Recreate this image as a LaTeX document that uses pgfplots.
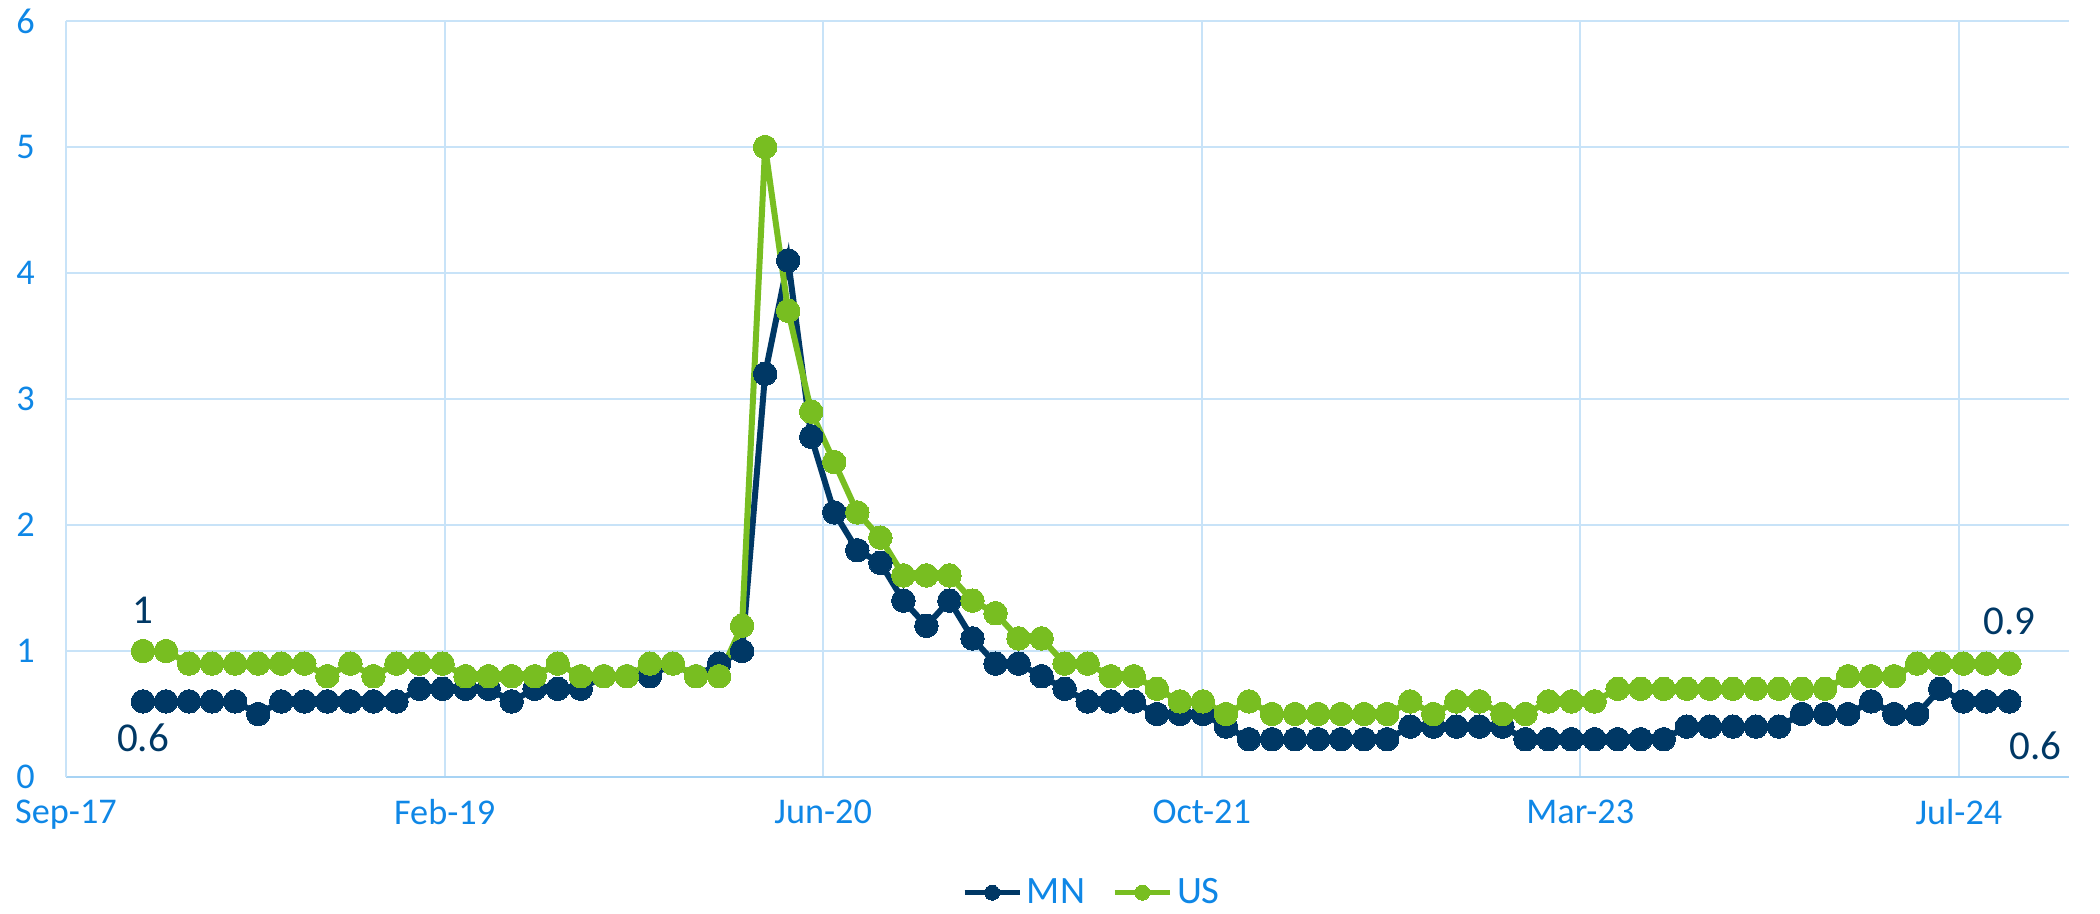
\documentclass[border=0pt]{standalone}
\usepackage{fontspec}
\setmainfont{Carlito}
\usepackage{pgfplots}
\usepackage{pgfplotstable}
\pgfplotsset{compat=1.18}
\definecolor{mncol}{HTML}{003865}
\definecolor{uscol}{HTML}{78BE21}
\definecolor{tickblue}{HTML}{0F87E6}
\definecolor{gridblue}{HTML}{C8E3F8}
\definecolor{axisblue}{HTML}{A7D3F4}
\pgfplotstableread{
i mn us
0 0.6 1.0
1 0.6 1.0
2 0.6 0.9
3 0.6 0.9
4 0.6 0.9
5 0.5 0.9
6 0.6 0.9
7 0.6 0.9
8 0.6 0.8
9 0.6 0.9
10 0.6 0.8
11 0.6 0.9
12 0.7 0.9
13 0.7 0.9
14 0.7 0.8
15 0.7 0.8
16 0.6 0.8
17 0.7 0.8
18 0.7 0.9
19 0.7 0.8
20 0.8 0.8
21 0.8 0.8
22 0.8 0.9
23 0.9 0.9
24 0.8 0.8
25 0.9 0.8
26 1.0 1.2
27 3.2 5.0
28 4.1 3.7
29 2.7 2.9
30 2.1 2.5
31 1.8 2.1
32 1.7 1.9
33 1.4 1.6
34 1.2 1.6
35 1.4 1.6
36 1.1 1.4
37 0.9 1.3
38 0.9 1.1
39 0.8 1.1
40 0.7 0.9
41 0.6 0.9
42 0.6 0.8
43 0.6 0.8
44 0.5 0.7
45 0.5 0.6
46 0.5 0.6
47 0.4 0.5
48 0.3 0.6
49 0.3 0.5
50 0.3 0.5
51 0.3 0.5
52 0.3 0.5
53 0.3 0.5
54 0.3 0.5
55 0.4 0.6
56 0.4 0.5
57 0.4 0.6
58 0.4 0.6
59 0.4 0.5
60 0.3 0.5
61 0.3 0.6
62 0.3 0.6
63 0.3 0.6
64 0.3 0.7
65 0.3 0.7
66 0.3 0.7
67 0.4 0.7
68 0.4 0.7
69 0.4 0.7
70 0.4 0.7
71 0.4 0.7
72 0.5 0.7
73 0.5 0.7
74 0.5 0.8
75 0.6 0.8
76 0.5 0.8
77 0.5 0.9
78 0.7 0.9
79 0.6 0.9
80 0.6 0.9
81 0.6 0.9
}\datatable
\begin{document}
\begin{tikzpicture}
\path[use as bounding box] (0,0) rectangle (840pt,365.2pt);
\begin{axis}[
  at={(26.4pt,54.4pt)}, anchor=south west,
  scale only axis, width=801.2pt, height=302.4pt,
  xmin=-3.342, xmax=83.59, ymin=0, ymax=6,
  xtick={-3.342,13.09,29.52,45.95,62.38,78.81},
  xticklabels={Sep-17,Feb-19,Jun-20,Oct-21,Mar-23,Jul-24},
  ytick={0,1,2,3,4,5,6},
  grid=major,
  major grid style={color=gridblue, line width=0.8pt},
  major tick length=0pt,
  axis x line*=bottom, axis y line*=left,
  x axis line style={color=axisblue, line width=0.9pt, -},
  y axis line style={color=gridblue, line width=0.8pt, -},
  tick label style={font=\fontsize{14.5}{17}\selectfont, text=tickblue},
  /pgf/number format/assume math mode=true,
  yticklabel style={xshift=-9pt},
  xticklabel style={yshift=-5.5pt},
  clip=false,
  legend columns=2,
  legend style={draw=none, fill=none, at={(0.513,-0.153)}, anchor=center,
    font=\fontsize{15.5}{18}\selectfont, text=tickblue,
    /tikz/every even column/.append style={column sep=9pt}},
  legend image code/.code={\draw[mark repeat=2,mark phase=2,#1,mark size=3pt,line width=1.8pt] plot coordinates {(0pt,0pt) (11pt,0pt) (22pt,0pt)};},
]
\addplot[color=mncol, line width=2.4pt, mark=*, mark size=4.7pt, mark options={fill=mncol, draw=mncol, line width=0pt}] table[x=i, y=mn] {\datatable};
\addlegendentry{MN}
\addplot[color=uscol, line width=2.4pt, mark=*, mark size=4.7pt, mark options={fill=uscol, draw=uscol, line width=0pt}] table[x=i, y=us] {\datatable};
\addlegendentry{US}
\node[text=mncol, font=\fontsize{16.4}{19}\selectfont, yshift=16.4pt] at (axis cs:0,1.0) {1};
\node[text=mncol, font=\fontsize{16.4}{19}\selectfont, yshift=-14.4pt] at (axis cs:0,0.6) {0.6};
\node[text=mncol, font=\fontsize{16.4}{19}\selectfont, yshift=16.8pt] at (axis cs:81,0.9) {0.9};
\node[text=mncol, font=\fontsize{16.4}{19}\selectfont, xshift=10.4pt, yshift=-17.6pt] at (axis cs:81,0.6) {0.6};
\end{axis}
\end{tikzpicture}
\end{document}
